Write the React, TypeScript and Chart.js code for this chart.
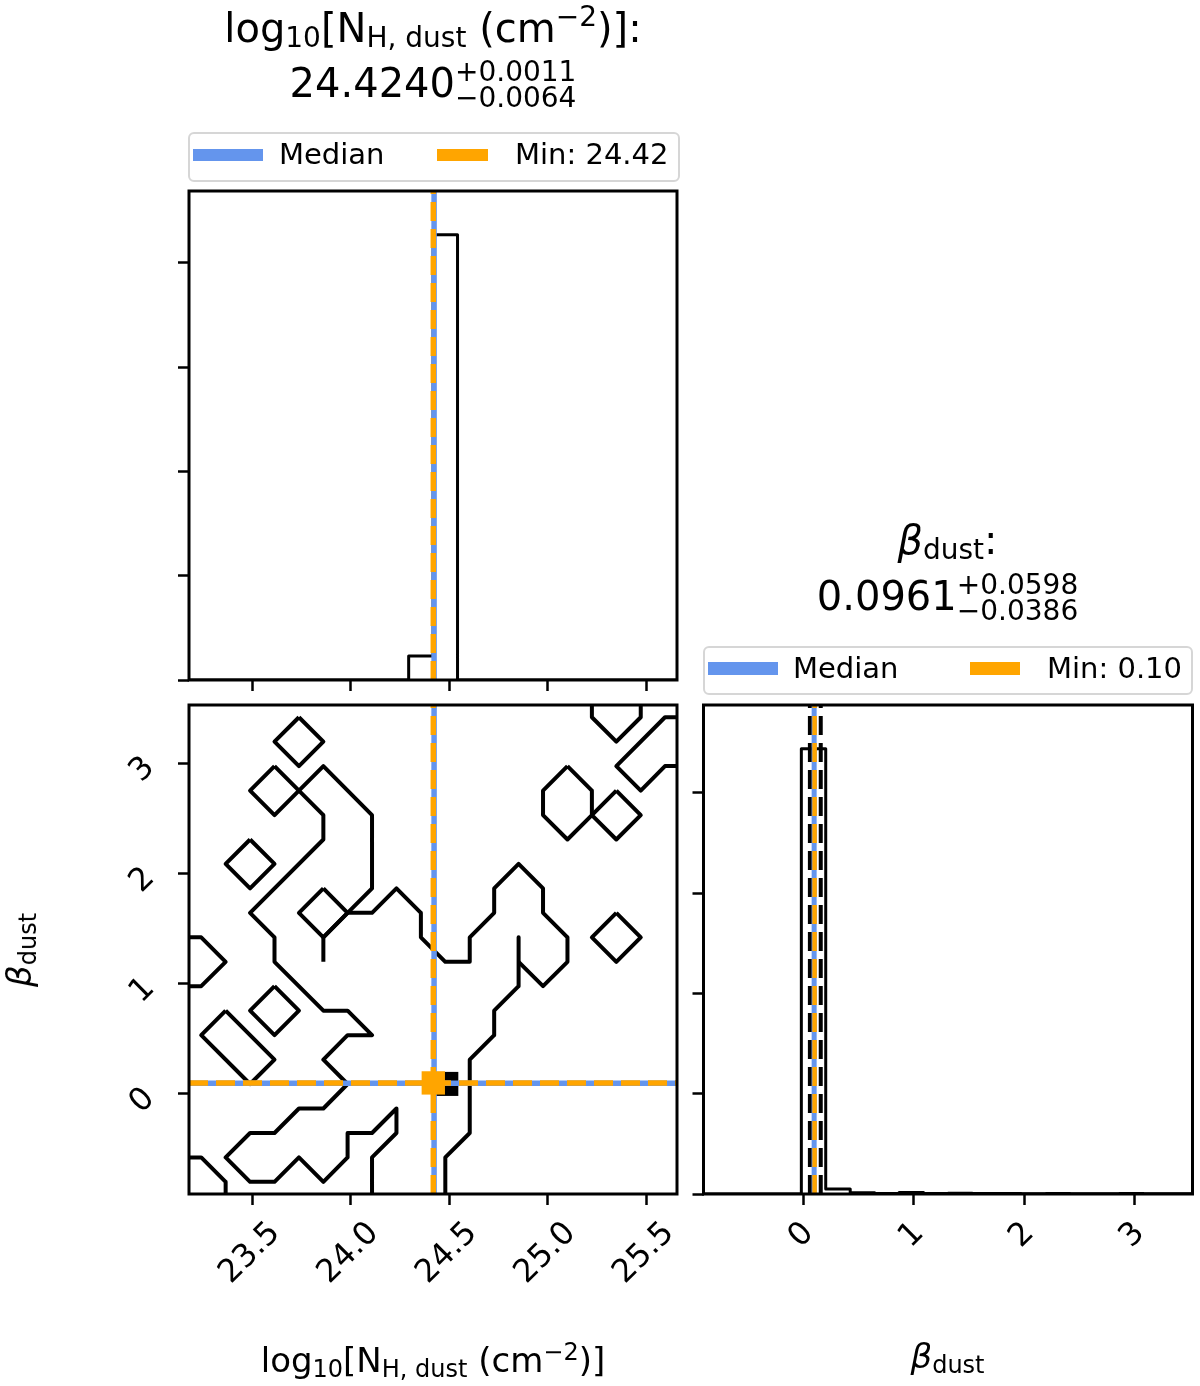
import React, { useEffect, useRef } from "react";
import { Chart, registerables } from "chart.js";

Chart.register(...registerables);

const W = 1200;
const H = 1386;
const FONT = '"DejaVu Sans", "Liberation Sans", sans-serif';
const BLUE = "#6495ED";
const ORANGE = "#FFA500";

// ---------------- data ----------------
const NH_RANGE = [23.18, 25.657];
const BETA_RANGE = [-0.907, 3.526];
const NH_TICKS = [23.5, 24.0, 24.5, 25.0, 25.5];
const NH_TICK_LABELS = ["23.5", "24.0", "24.5", "25.0", "25.5"];
const BETA_TICKS = [0, 1, 2, 3];
const BETA_TICK_LABELS = ["0", "1", "2", "3"];
const HIST_COUNT_TICKS = [0, 1, 2, 3, 4];
const NH_HIST_YMAX = 4.69;
const BETA_HIST_YMAX = 4.875;

const NH_BIN_EDGES = [23.18, 23.304, 23.428, 23.552, 23.676, 23.799, 23.923, 24.047, 24.171, 24.295, 24.419, 24.543, 24.667, 24.791, 24.915, 25.038, 25.162, 25.286, 25.41, 25.534, 25.657];
const NH_HIST = [0, 0, 0, 0, 0, 0, 0, 0, 0, 0.23, 4.27, 0, 0, 0, 0, 0, 0, 0, 0, 0];
const BETA_BIN_EDGES = [-0.907, -0.685, -0.464, -0.242, -0.02, 0.201, 0.423, 0.645, 0.866, 1.088, 1.31, 1.531, 1.753, 1.975, 2.196, 2.418, 2.64, 2.861, 3.083, 3.305, 3.526];
const BETA_HIST = [0, 0, 0, 0, 4.44, 0.05, 0.012, 0.004, 0.015, 0.005, 0.008, 0.004, 0.006, 0.003, 0.004, 0.002, 0.003, 0.004, 0.002, 0.003];

const NH_QUANTILES = [24.4176, 24.424, 24.4251];
const BETA_QUANTILES = [0.0575, 0.0961, 0.1559];
const NH_MEDIAN = 24.424;
const NH_BEST = 24.42;
const BETA_MEDIAN = 0.0961;
const BETA_BEST = 0.1;
const DENSITY_PEAK: [number, number] = [24.486, 0.091];

type Pt = [number, number];
// contour polylines (x = log10 N_H, y = beta)
const CONTOUR_A: Pt[] = [[23.738, 3.415], [23.862, 3.194], [23.738, 2.972], [23.614, 3.194], [23.738, 3.415]];
const CONTOUR_B: Pt[] = [[23.614, 2.972], [23.738, 2.75], [23.614, 2.528], [23.49, 2.75], [23.614, 2.972]];
const CONTOUR_MAIN_LEFT: Pt[] = [
  [23.862, 1.198], [23.862, 1.42], [23.985, 1.642], [24.109, 1.863], [24.109, 2.528], [23.862, 2.972],
  [23.738, 2.75], [23.862, 2.528], [23.862, 2.307], [23.49, 1.642], [23.614, 1.42], [23.614, 1.198],
  [23.862, 0.755], [23.985, 0.755], [24.109, 0.533], [23.985, 0.533], [23.862, 0.311], [23.985, 0.09],
  [23.862, -0.132], [23.738, -0.132], [23.614, -0.354], [23.49, -0.354], [23.366, -0.575], [23.49, -0.797],
  [23.614, -0.797], [23.738, -0.575], [23.862, -0.797], [23.985, -0.575], [23.985, -0.354], [24.109, -0.354],
  [24.233, -0.132], [24.233, -0.354], [24.109, -0.575], [24.109, -0.907],
];
const CONTOUR_MAIN_RIGHT: Pt[] = [
  [23.985, 1.642], [24.109, 1.642], [24.233, 1.863], [24.357, 1.642], [24.357, 1.42], [24.481, 1.198],
  [24.605, 1.198], [24.605, 1.42], [24.729, 1.642], [24.729, 1.863], [24.853, 2.085], [24.977, 1.863],
  [24.977, 1.642], [25.101, 1.42], [25.101, 1.198], [24.977, 0.977], [24.853, 1.198],
];
const CONTOUR_MAIN_LOWER: Pt[] = [
  [24.853, 1.42], [24.853, 0.977], [24.729, 0.755], [24.729, 0.533], [24.605, 0.311], [24.605, -0.354],
  [24.481, -0.575], [24.481, -0.907],
];
const CONTOUR_C: Pt[] = [[23.862, 1.863], [23.985, 1.642], [23.862, 1.42], [23.738, 1.642], [23.862, 1.863]];
const CONTOUR_LEFT_EDGE: Pt[] = [[23.18, 1.42], [23.242, 1.42], [23.366, 1.198], [23.242, 0.977], [23.18, 0.977]];
const CONTOUR_D: Pt[] = [[23.49, 2.307], [23.614, 2.085], [23.49, 1.863], [23.366, 2.085], [23.49, 2.307]];
const CONTOUR_E: Pt[] = [[23.614, 0.977], [23.738, 0.755], [23.614, 0.533], [23.49, 0.755], [23.614, 0.977]];
const CONTOUR_F: Pt[] = [[23.366, 0.755], [23.614, 0.311], [23.49, 0.09], [23.242, 0.533], [23.366, 0.755]];
const CONTOUR_CORNER: Pt[] = [[23.18, -0.575], [23.242, -0.575], [23.366, -0.797], [23.366, -0.907]];
const CONTOUR_TOP_RIGHT: Pt[] = [[25.225, 3.526], [25.225, 3.415], [25.349, 3.194], [25.473, 3.415], [25.473, 3.526]];
const CONTOUR_RIGHT_EDGE: Pt[] = [[25.657, 3.415], [25.596, 3.415], [25.349, 2.972], [25.473, 2.75], [25.596, 2.972], [25.657, 2.972]];
const CONTOUR_G: Pt[] = [[25.101, 2.972], [25.225, 2.75], [25.225, 2.528], [25.101, 2.307], [24.977, 2.528], [24.977, 2.75], [25.101, 2.972]];
const CONTOUR_H: Pt[] = [[25.349, 2.75], [25.473, 2.528], [25.349, 2.307], [25.225, 2.528], [25.349, 2.75]];
const CONTOUR_I: Pt[] = [[25.349, 1.642], [25.473, 1.42], [25.349, 1.198], [25.225, 1.42], [25.349, 1.642]];
const CONTOURS: Pt[][] = [
  CONTOUR_A, CONTOUR_B, CONTOUR_MAIN_LEFT, CONTOUR_MAIN_RIGHT, CONTOUR_MAIN_LOWER, CONTOUR_C,
  CONTOUR_LEFT_EDGE, CONTOUR_D, CONTOUR_E, CONTOUR_F, CONTOUR_CORNER, CONTOUR_TOP_RIGHT,
  CONTOUR_RIGHT_EDGE, CONTOUR_G, CONTOUR_H, CONTOUR_I,
];

// ---------------- helpers ----------------
const DASH = [19, 8];

const lineDs = (pts: Pt[], color: string, width: number, order: number, dash: number[] = [], extra: any = {}) => ({
  data: pts.map(([x, y]) => ({ x, y })),
  showLine: true,
  borderColor: color,
  backgroundColor: color,
  borderWidth: width,
  borderDash: dash,
  borderJoinStyle: "round",
  borderCapStyle: "butt",
  pointRadius: 0,
  pointHoverRadius: 0,
  pointHitRadius: 0,
  fill: false,
  tension: 0,
  order,
  ...extra,
});

const pointDs = (p: Pt, color: string, radius: number, order: number) => ({
  data: [{ x: p[0], y: p[1] }],
  showLine: false,
  pointStyle: "rect",
  pointRadius: radius,
  pointHoverRadius: radius,
  pointBackgroundColor: color,
  pointBorderWidth: 0,
  borderWidth: 0,
  order,
});

const stepPoints = (edges: number[], vals: number[]): Pt[] => {
  const pts: Pt[] = [[edges[0], 0]];
  vals.forEach((v, i) => pts.push([edges[i], v]));
  pts.push([edges[edges.length - 1], vals[vals.length - 1]]);
  pts.push([edges[edges.length - 1], 0]);
  return pts;
};

const scaleCfg = (range: number[], ticks: number[], position: string) => ({
  type: "linear",
  position,
  min: range[0],
  max: range[1],
  afterBuildTicks: (s: any) => {
    s.ticks = ticks.map((v) => ({ value: v }));
  },
  afterFit: (s: any) => {
    if (position === "bottom") s.height = 0;
    else s.width = 0;
  },
  ticks: { display: false },
  grid: { display: true, drawOnChartArea: false, drawTicks: true, tickLength: 11, tickWidth: 2.5, tickColor: "#000" },
  border: { display: false },
});

const framePlugin = {
  id: "frame",
  afterDraw(chart: any) {
    const { ctx, chartArea: a } = chart;
    ctx.save();
    ctx.strokeStyle = "#000";
    ctx.lineWidth = 3;
    ctx.strokeRect(a.left, a.top, a.right - a.left, a.bottom - a.top);
    ctx.restore();
  },
};

type TickItem = { axis: "x" | "y"; values: number[]; labels: string[]; size: number; gap: number; dx?: number; dy?: number };
const makeTickPlugin = (items: TickItem[]) => ({
  id: "rotTicks",
  afterDraw(chart: any) {
    const ctx = chart.ctx;
    const a = chart.chartArea;
    items.forEach((it) => {
      const scale = chart.scales[it.axis];
      ctx.save();
      ctx.font = `${it.size}px ${FONT}`;
      ctx.fillStyle = "#000";
      ctx.textAlign = "center";
      ctx.textBaseline = "middle";
      it.values.forEach((v, i) => {
        const label = it.labels[i];
        const p = scale.getPixelForValue(v);
        const w = ctx.measureText(label).width - 0.1 * it.size;
        const h = 0.73 * it.size;
        const half = (w + h) / (2 * Math.SQRT2);
        const cx = it.axis === "x" ? p + (it.dx || 0) : a.left - it.gap - half;
        const cy = it.axis === "x" ? a.bottom + it.gap + half : p + (it.dy || 0);
        ctx.save();
        ctx.translate(cx, cy);
        ctx.rotate(-Math.PI / 4);
        ctx.fillText(label, 0, 0);
        ctx.restore();
      });
      ctx.restore();
    });
  },
});

const baseOptions = (padding: any, x: any, y: any) => ({
  responsive: false,
  maintainAspectRatio: false,
  animation: false,
  devicePixelRatio: 1,
  events: [],
  layout: { padding },
  plugins: { legend: { display: false }, tooltip: { enabled: false }, title: { display: false } },
  scales: { x, y },
});

const vLine = (x: number, y0: number, y1: number, color: string, width: number, order: number, dash: number[] = []) =>
  lineDs([[x, y0], [x, y1]], color, width, order, dash);
const hLine = (y: number, x0: number, x1: number, color: string, width: number, order: number, dash: number[] = []) =>
  lineDs([[x0, y], [x1, y]], color, width, order, dash);

// ---------------- chart configs ----------------
const makeNhHist = () => ({
  type: "line",
  data: {
    datasets: [
      lineDs(stepPoints(NH_BIN_EDGES, NH_HIST), "#000", 3, 10, [], { stepped: true }),
      ...NH_QUANTILES.map((q) => vLine(q, 0, NH_HIST_YMAX, "#000", 3, 9, DASH)),
      vLine(NH_MEDIAN, 0, NH_HIST_YMAX, BLUE, 5.5, 8),
      vLine(NH_BEST, 0, NH_HIST_YMAX, ORANGE, 5.5, 7, DASH),
    ],
  },
  options: baseOptions(
    { left: 189, top: 191, right: W - 677, bottom: H - 680 },
    scaleCfg(NH_RANGE, NH_TICKS, "bottom"),
    scaleCfg([0, NH_HIST_YMAX], HIST_COUNT_TICKS, "left")
  ),
  plugins: [framePlugin],
});

const makeContour = () => ({
  type: "line",
  data: {
    datasets: [
      ...CONTOURS.map((c) => lineDs(c, "#000", 4, 10)),
      pointDs(DENSITY_PEAK, "#000", 17, 9),
      vLine(NH_MEDIAN, BETA_RANGE[0], BETA_RANGE[1], BLUE, 5.5, 8),
      hLine(BETA_MEDIAN, NH_RANGE[0], NH_RANGE[1], BLUE, 5.5, 8),
      vLine(NH_BEST, BETA_RANGE[0], BETA_RANGE[1], ORANGE, 5.5, 7, DASH),
      hLine(BETA_BEST, NH_RANGE[0], NH_RANGE[1], ORANGE, 5.5, 7, DASH),
      pointDs([NH_BEST, BETA_BEST], ORANGE, 16.5, 6),
    ],
  },
  options: baseOptions(
    { left: 189, top: 705, right: W - 677, bottom: H - 1194 },
    scaleCfg(NH_RANGE, NH_TICKS, "bottom"),
    scaleCfg(BETA_RANGE, BETA_TICKS, "left")
  ),
  plugins: [
    framePlugin,
    makeTickPlugin([
      { axis: "x", values: NH_TICKS, labels: NH_TICK_LABELS, size: 32, gap: 27, dx: -2 },
      { axis: "y", values: BETA_TICKS, labels: BETA_TICK_LABELS, size: 32, gap: 32, dy: 7 },
    ]),
  ],
});

const makeBetaHist = () => ({
  type: "line",
  data: {
    datasets: [
      lineDs(stepPoints(BETA_BIN_EDGES, BETA_HIST), "#000", 3, 10, [], { stepped: true }),
      ...BETA_QUANTILES.map((q) => vLine(q, 0, BETA_HIST_YMAX, "#000", 4, 9, DASH)),
      vLine(BETA_MEDIAN, 0, BETA_HIST_YMAX, BLUE, 5, 8),
      vLine(BETA_BEST, 0, BETA_HIST_YMAX, ORANGE, 4.5, 7, DASH),
    ],
  },
  options: baseOptions(
    { left: 703.5, top: 705, right: W - 1192.5, bottom: H - 1194 },
    scaleCfg(BETA_RANGE, BETA_TICKS, "bottom"),
    scaleCfg([0, BETA_HIST_YMAX], HIST_COUNT_TICKS, "left")
  ),
  plugins: [
    framePlugin,
    makeTickPlugin([{ axis: "x", values: BETA_TICKS, labels: BETA_TICK_LABELS, size: 32, gap: 27, dx: -2 }]),
  ],
});

// ---------------- components ----------------
function ChartCanvas({ make }: { make: () => any }) {
  const ref = useRef<HTMLCanvasElement>(null);
  useEffect(() => {
    const chart = new Chart(ref.current as HTMLCanvasElement, make() as any);
    return () => chart.destroy();
  }, []);
  return (
    <canvas
      ref={ref}
      width={W}
      height={H}
      style={{ position: "absolute", left: 0, top: 0, width: W, height: H }}
    />
  );
}

type Piece =
  | { t: string; s: number; dy?: number; it?: boolean }
  | { stack: [string, string]; s: number; dyTop: number; dyBot: number };

const B0 = 44;
function MathLine({ x, baseline, pieces, anchor = "center", rotate = false }: { x: number; baseline: number; pieces: Piece[]; anchor?: string; rotate?: boolean }) {
  const items = pieces.map((p, i) => {
    if ("stack" in p) {
      return (
        <div key={i} style={{ display: "flex", flexDirection: "column", alignItems: "flex-start" }}>
          <span style={{ fontSize: p.s, lineHeight: `${p.s}px`, marginTop: B0 + p.dyTop - 0.846 * p.s, whiteSpace: "pre" }}>{p.stack[0]}</span>
          <span style={{ fontSize: p.s, lineHeight: `${p.s}px`, marginTop: p.dyBot - p.dyTop - p.s, whiteSpace: "pre" }}>{p.stack[1]}</span>
        </div>
      );
    }
    return (
      <span
        key={i}
        style={{
          fontSize: p.s,
          lineHeight: `${p.s}px`,
          marginTop: B0 + (p.dy || 0) - 0.846 * p.s,
          fontStyle: p.it ? "italic" : "normal",
          whiteSpace: "pre",
        }}
      >
        {p.t}
      </span>
    );
  });
  let transform = "none";
  if (anchor === "center") transform = rotate ? "translateX(-50%) rotate(-90deg)" : "translateX(-50%)";
  return (
    <div
      style={{
        position: "absolute",
        left: x,
        top: baseline - B0,
        display: "flex",
        alignItems: "flex-start",
        fontFamily: FONT,
        color: "#000",
        whiteSpace: "nowrap",
        transform,
        transformOrigin: `50% ${B0}px`,
      }}
    >
      {items}
    </div>
  );
}

function LegendBox({ box, handleTop, handleH, blueX, blueW, orangeX, orangeW, medianX, minX, minLabel, baseline }: any) {
  return (
    <>
      <div
        style={{
          position: "absolute",
          left: box[0],
          top: box[1],
          width: box[2],
          height: box[3],
          boxSizing: "border-box",
          border: "2px solid #d6d6d6",
          borderRadius: 6,
          background: "rgba(255,255,255,0.9)",
        }}
      />
      <div style={{ position: "absolute", left: blueX, top: handleTop, width: blueW, height: handleH, background: BLUE }} />
      <div style={{ position: "absolute", left: orangeX, top: handleTop, width: orangeW, height: handleH, background: ORANGE }} />
      <MathLine x={medianX} baseline={baseline} anchor="left" pieces={[{ t: "Median", s: 29 }]} />
      <MathLine x={minX} baseline={baseline} anchor="left" pieces={[{ t: minLabel, s: 29 }]} />
    </>
  );
}

export default function App() {
  return (
    <div style={{ position: "absolute", left: 0, top: 0, width: W, height: H, background: "#fff", overflow: "hidden" }}>
      <ChartCanvas make={makeNhHist} />
      <ChartCanvas make={makeContour} />
      <ChartCanvas make={makeBetaHist} />

      {/* top-left title */}
      <MathLine
        x={433}
        baseline={42}
        pieces={[
          { t: "log", s: 40 },
          { t: "10", s: 28, dy: 6 },
          { t: "[N", s: 40 },
          { t: "H, dust", s: 28, dy: 6 },
          { t: " (cm", s: 40 },
          { t: "\u22122", s: 28, dy: -15 },
          { t: ")]:", s: 40 },
        ]}
      />
      <MathLine
        x={433}
        baseline={97}
        pieces={[
          { t: "24.4240", s: 40 },
          { stack: ["+0.0011", "\u22120.0064"], s: 28, dyTop: -15, dyBot: 11 },
        ]}
      />
      <LegendBox
        box={[188, 132, 492, 50]}
        handleTop={148.5}
        handleH={12.5}
        blueX={193}
        blueW={70}
        orangeX={437}
        orangeW={51}
        medianX={279}
        minX={515}
        minLabel="Min: 24.42"
        baseline={165}
      />

      {/* bottom-right title */}
      <MathLine
        x={947.5}
        baseline={554}
        pieces={[
          { t: "\u03b2", s: 40, it: true },
          { t: "dust", s: 28, dy: 6 },
          { t: ":", s: 40 },
        ]}
      />
      <MathLine
        x={947.5}
        baseline={610}
        pieces={[
          { t: "0.0961", s: 40 },
          { stack: ["+0.0598", "\u22120.0386"], s: 28, dyTop: -15, dyBot: 11 },
        ]}
      />
      <LegendBox
        box={[703, 646, 490, 49]}
        handleTop={662}
        handleH={13}
        blueX={708}
        blueW={70}
        orangeX={970}
        orangeW={50}
        medianX={793}
        minX={1047}
        minLabel="Min: 0.10"
        baseline={679}
      />

      {/* axis labels */}
      <MathLine
        x={433}
        baseline={1372}
        pieces={[
          { t: "log", s: 34 },
          { t: "10", s: 24, dy: 5 },
          { t: "[N", s: 34 },
          { t: "H, dust", s: 24, dy: 5 },
          { t: " (cm", s: 34 },
          { t: "\u22122", s: 24, dy: -12 },
          { t: ")]", s: 34 },
        ]}
      />
      <MathLine
        x={947.5}
        baseline={1368}
        pieces={[
          { t: "\u03b2", s: 34, it: true },
          { t: "dust", s: 24, dy: 5 },
        ]}
      />
      <MathLine
        x={31}
        baseline={950}
        rotate
        pieces={[
          { t: "\u03b2", s: 34, it: true },
          { t: "dust", s: 24, dy: 5 },
        ]}
      />
    </div>
  );
}
